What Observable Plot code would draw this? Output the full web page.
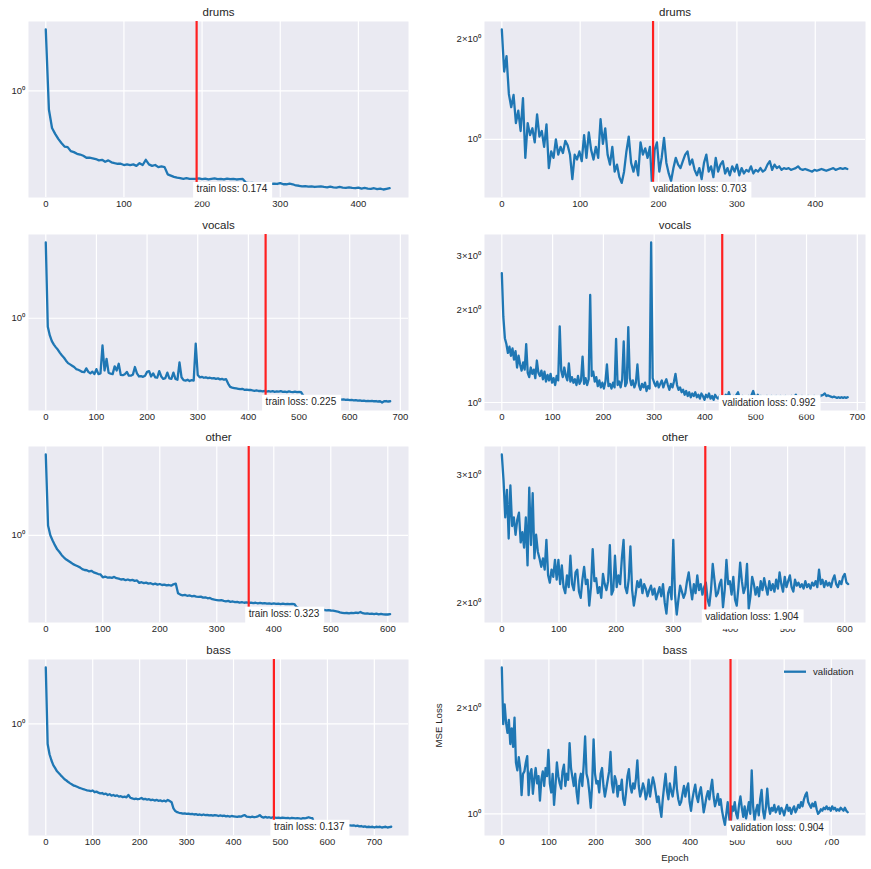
<!DOCTYPE html>
<html><head><meta charset="utf-8">
<script src="https://cdn.jsdelivr.net/npm/d3@7"></script>
<script src="https://cdn.jsdelivr.net/npm/@observablehq/plot@0.6"></script>
<style>
body{margin:0;background:#fff;}
#fig{position:relative;width:871px;height:869px;font-family:"Liberation Sans",Arial,sans-serif;}
#fig svg{position:absolute;overflow:visible;}
</style></head><body><div id="fig"></div>
<script>
// ---------- data ----------
const instruments = ["drums", "vocals", "other", "bass"];
const nEpochs = [443, 683, 607, 737];
const bestEpochs = [193, 434, 356, 486];
const bestTrainLoss = [0.174, 0.225, 0.323, 0.137];
const bestValLoss = [0.703, 0.992, 1.904, 0.904];
const trainStep = 4;   // epochs between train samples
const valStep = 3;     // epochs between validation samples

const drumsXTicks = [0, 100, 200, 300, 400];
const vocalsXTicks = [0, 100, 200, 300, 400, 500, 600, 700];
const otherXTicks = [0, 100, 200, 300, 400, 500, 600];
const bassXTicks = [0, 100, 200, 300, 400, 500, 600, 700];
const trainYTicks = [1];
const valYTicks = [1, 2, 3];
const majorYGrid = [1];

const drumsTrainLoss = [
2.93,0.72,0.52,0.47,0.43,0.40,0.376,0.372,0.347,0.341,
0.331,0.327,0.32,0.309,0.309,0.306,0.302,0.295,0.298,0.288,
0.295,0.285,0.281,0.278,0.278,0.272,0.275,0.272,0.275,0.268,
0.281,0.272,0.298,0.275,0.268,0.272,0.262,0.265,0.262,0.231,
0.226,0.221,0.218,0.216,0.213,0.216,0.213,0.213,0.213,0.215,
0.212,0.214,0.211,0.213,0.215,0.212,0.213,0.211,0.214,0.212,
0.213,0.211,0.212,0.213,0.200,0.198,0.199,0.197,0.198,0.196,
0.197,0.196,0.195,0.196,0.195,0.198,0.194,0.194,0.196,0.194,
0.19,0.189,0.187,0.188,0.186,0.187,0.185,0.186,0.187,0.185,
0.184,0.186,0.184,0.183,0.185,0.183,0.182,0.184,0.182,0.181,
0.183,0.18,0.182,0.18,0.179,0.181,0.178,0.18,0.177,0.179,
0.181];
const drumsValLoss = [
2.14,1.60,1.78,1.37,1.25,1.36,1.12,1.22,1.06,1.33,
0.88,1.12,1.03,1.08,0.98,1.19,1.02,1.06,0.95,1.11,
0.82,0.92,0.88,1.00,0.90,0.95,0.91,0.99,0.96,0.90,
0.76,0.90,0.87,0.92,0.86,1.03,0.88,1.05,0.93,0.87,
0.95,0.88,1.15,0.97,1.08,0.90,0.84,0.95,0.80,0.84,
0.77,0.74,0.80,0.92,1.02,0.85,0.80,0.86,0.78,0.98,
0.90,0.94,0.88,0.95,0.707,0.93,0.98,0.80,0.88,1.01,
0.85,0.79,0.75,0.82,0.88,0.84,0.82,0.86,0.90,0.92,
0.84,0.87,0.81,0.78,0.82,0.76,0.85,0.90,0.80,0.83,
0.77,0.88,0.80,0.84,0.86,0.79,0.82,0.78,0.83,0.80,
0.84,0.78,0.82,0.79,0.81,0.80,0.83,0.79,0.81,0.80,
0.82,0.80,0.81,0.84,0.86,0.81,0.84,0.82,0.83,0.81,
0.82,0.815,0.82,0.81,0.815,0.82,0.83,0.815,0.81,0.815,
0.81,0.805,0.80,0.81,0.805,0.81,0.815,0.81,0.805,0.81,
0.815,0.82,0.81,0.815,0.82,0.815,0.82,0.815];
const vocalsTrainLoss = [
3.78,0.86,0.74,0.67,0.63,0.60,0.575,0.545,0.52,0.50,
0.475,0.455,0.445,0.435,0.425,0.41,0.405,0.398,0.39,0.388,
0.415,0.39,0.38,0.392,0.375,0.41,0.375,0.38,0.62,0.40,
0.49,0.385,0.378,0.375,0.43,0.40,0.45,0.37,0.368,0.375,
0.39,0.365,0.365,0.372,0.425,0.38,0.36,0.362,0.358,0.365,
0.39,0.395,0.36,0.38,0.355,0.352,0.395,0.36,0.345,0.35,
0.385,0.348,0.345,0.385,0.345,0.34,0.46,0.355,0.338,0.335,
0.34,0.332,0.338,0.335,0.64,0.37,0.355,0.358,0.352,0.355,
0.35,0.352,0.348,0.35,0.345,0.348,0.342,0.345,0.34,0.343,
0.318,0.30,0.296,0.294,0.292,0.29,0.288,0.29,0.285,0.286,
0.284,0.285,0.282,0.28,0.282,0.279,0.28,0.277,0.279,0.276,
0.278,0.276,0.278,0.275,0.277,0.276,0.278,0.275,0.276,0.274,
0.277,0.275,0.274,0.276,0.274,0.275,0.273,0.258,0.252,0.25,
0.249,0.248,0.247,0.248,0.246,0.247,0.245,0.246,0.244,0.245,
0.243,0.244,0.242,0.243,0.241,0.242,0.24,0.241,0.239,0.24,
0.238,0.239,0.237,0.238,0.236,0.237,0.235,0.236,0.234,0.235,
0.234,0.235,0.233,0.234,0.232,0.233,0.228,0.233,0.234,0.232,
0.233];
const vocalsValLoss = [
2.64,1.90,1.62,1.55,1.45,1.52,1.42,1.50,1.38,1.47,
1.30,1.42,1.33,1.27,1.35,1.28,1.55,1.25,1.21,1.30,
1.24,1.28,1.20,1.37,1.25,1.22,1.27,1.19,1.26,1.17,
1.23,1.18,1.24,1.16,1.20,1.14,1.22,1.18,1.77,1.27,
1.21,1.30,1.22,1.18,1.34,1.17,1.21,1.16,1.19,1.14,
1.22,1.15,1.18,1.41,1.15,1.20,1.14,1.19,2.24,1.22,
1.26,1.17,1.21,1.13,1.18,1.12,1.16,1.11,1.17,1.33,
1.13,1.15,1.11,1.16,1.12,1.61,1.14,1.17,1.12,1.19,
1.58,1.13,1.16,1.76,1.20,1.14,1.18,1.12,1.16,1.33,
1.14,1.10,1.15,1.12,1.16,1.09,1.13,1.11,3.32,1.20,
1.16,1.13,1.17,1.12,1.15,1.18,1.12,1.16,1.19,1.14,
1.10,1.15,1.12,1.17,1.24,1.14,1.10,1.12,1.08,1.10,
1.06,1.09,1.05,1.08,1.04,1.07,1.05,1.08,1.04,1.06,
1.03,1.07,1.05,1.02,1.06,1.04,1.07,1.03,1.05,1.02,
1.06,1.04,1.03,1.05,1.02,1.00,1.04,1.06,1.03,1.08,
1.04,1.02,1.05,1.03,1.06,1.08,1.04,1.03,1.05,1.02,
1.04,1.03,1.05,1.03,1.06,1.09,1.05,1.04,1.06,1.04,
1.05,1.04,1.045,1.04,1.05,1.04,1.045,1.05,1.04,1.045,
1.05,1.04,1.045,1.05,1.04,1.045,1.05,1.04,1.045,1.04,
1.05,1.04,1.045,1.06,1.04,1.045,1.04,1.05,1.04,1.045,
1.04,1.05,1.04,1.045,1.04,1.05,1.04,1.045,1.04,1.05,
1.055,1.06,1.07,1.05,1.055,1.05,1.045,1.04,1.045,1.04,
1.035,1.04,1.035,1.04,1.035,1.04,1.035,1.04];
const otherTrainLoss = [
3.14,1.15,1.00,0.93,0.87,0.82,0.79,0.755,0.73,0.71,
0.695,0.68,0.665,0.655,0.645,0.635,0.62,0.612,0.61,0.60,
0.605,0.592,0.585,0.578,0.575,0.552,0.558,0.55,0.552,0.548,
0.555,0.545,0.542,0.535,0.538,0.53,0.535,0.528,0.532,0.525,
0.528,0.51,0.515,0.508,0.512,0.505,0.508,0.50,0.505,0.498,
0.502,0.495,0.498,0.492,0.495,0.49,0.50,0.505,0.44,0.432,
0.428,0.43,0.425,0.427,0.422,0.424,0.42,0.418,0.42,0.414,
0.416,0.41,0.412,0.405,0.402,0.40,0.398,0.40,0.395,0.393,
0.395,0.39,0.392,0.388,0.39,0.386,0.388,0.385,0.387,0.384,
0.386,0.383,0.385,0.382,0.384,0.381,0.383,0.38,0.382,0.379,
0.381,0.379,0.38,0.378,0.38,0.378,0.379,0.377,0.379,0.378,
0.362,0.356,0.354,0.352,0.353,0.35,0.352,0.349,0.35,0.348,
0.349,0.347,0.348,0.346,0.347,0.345,0.344,0.342,0.34,0.336,
0.334,0.332,0.333,0.331,0.334,0.332,0.335,0.333,0.338,0.332,
0.33,0.331,0.329,0.33,0.328,0.33,0.327,0.329,0.327,0.326,
0.326,0.328];
const otherValLoss = [
3.20,2.95,2.62,2.86,2.45,2.90,2.55,2.62,2.48,2.60,
2.66,2.42,2.50,2.38,2.62,2.25,2.88,2.40,2.83,2.30,
2.48,2.35,2.30,2.24,2.30,2.22,2.44,2.18,2.13,2.22,
2.17,2.29,2.15,2.29,2.12,2.25,2.10,2.06,2.18,2.10,
2.32,2.12,2.08,2.20,2.22,2.07,2.03,2.15,2.24,2.12,
2.15,1.98,2.10,2.37,2.14,2.16,2.06,2.10,2.03,2.19,
2.12,2.08,2.14,2.40,2.05,2.08,2.32,2.10,2.18,2.12,
2.30,2.44,2.10,2.06,2.15,2.39,2.08,1.98,2.05,2.14,
2.10,2.15,2.06,2.12,2.09,2.04,2.08,2.11,2.05,2.09,
2.02,2.06,2.10,2.04,2.12,2.00,1.93,2.06,2.10,2.02,
2.44,2.05,1.925,2.02,2.11,2.07,2.03,2.06,2.14,2.20,
2.10,2.02,2.12,2.06,2.18,2.08,2.12,2.05,2.10,2.13,
2.02,1.98,2.08,2.26,2.15,2.04,2.06,2.12,2.15,1.97,
2.08,2.29,2.12,2.14,2.05,2.17,2.02,1.98,2.10,2.27,
2.14,2.06,2.10,2.26,1.96,2.04,2.17,2.12,2.05,2.10,
2.04,2.14,2.08,2.16,2.10,2.05,2.14,2.08,2.12,2.07,
2.15,2.09,2.20,2.12,2.07,2.17,2.10,2.14,2.18,2.10,
2.07,2.15,2.11,2.13,2.10,2.12,2.09,2.14,2.10,2.12,
2.09,2.13,2.11,2.14,2.10,2.22,2.12,2.15,2.10,2.14,
2.11,2.13,2.10,2.15,2.18,2.12,2.10,2.14,2.12,2.17,
2.19,2.13,2.12];
const bassTrainLoss = [
2.92,0.68,0.56,0.50,0.455,0.43,0.405,0.39,0.375,0.362,
0.348,0.34,0.33,0.322,0.315,0.308,0.305,0.30,0.295,0.292,
0.288,0.285,0.282,0.28,0.278,0.281,0.272,0.275,0.27,0.266,
0.268,0.262,0.265,0.258,0.262,0.255,0.258,0.253,0.256,0.25,
0.252,0.248,0.25,0.247,0.258,0.245,0.242,0.239,0.241,0.238,
0.24,0.244,0.238,0.24,0.236,0.238,0.234,0.236,0.232,0.235,
0.231,0.233,0.229,0.232,0.228,0.235,0.23,0.225,0.20,0.19,
0.186,0.184,0.183,0.181,0.182,0.18,0.181,0.179,0.18,0.178,
0.179,0.177,0.178,0.176,0.178,0.176,0.177,0.175,0.176,0.174,
0.176,0.175,0.173,0.175,0.173,0.174,0.172,0.173,0.171,0.173,
0.172,0.171,0.17,0.172,0.171,0.174,0.176,0.171,0.17,0.169,
0.171,0.169,0.17,0.172,0.176,0.17,0.168,0.17,0.168,0.169,
0.167,0.169,0.168,0.167,0.168,0.166,0.168,0.167,0.166,0.167,
0.165,0.167,0.166,0.165,0.166,0.165,0.164,0.166,0.165,0.167,
0.169,0.167,0.166,0.15,0.148,0.149,0.147,0.148,0.146,0.147,
0.146,0.147,0.145,0.146,0.145,0.146,0.144,0.145,0.144,0.145,
0.144,0.145,0.145,0.144,0.145,0.143,0.144,0.142,0.143,0.141,
0.142,0.14,0.141,0.14,0.141,0.139,0.141,0.14,0.141,0.139,
0.14,0.141,0.139,0.14,0.141];
const bassValLoss = [
2.61,1.80,2.05,1.82,1.70,1.85,1.58,1.75,1.55,1.88,
1.40,1.33,1.45,1.35,1.13,1.30,1.32,1.40,1.46,1.13,
1.30,1.34,1.14,1.26,1.35,1.22,1.28,1.09,1.25,1.32,
1.20,1.35,1.28,1.52,1.22,1.15,1.30,1.06,1.20,1.40,
1.28,1.22,1.18,1.32,1.38,1.20,1.30,1.25,1.59,1.35,
1.27,1.20,1.30,1.15,1.07,1.24,1.30,1.20,1.38,1.66,
1.30,1.25,1.15,1.04,1.22,1.63,1.30,1.22,1.24,1.15,
1.30,1.35,1.20,1.12,1.18,1.25,1.32,1.50,1.22,1.15,
1.28,1.24,1.12,1.20,1.17,1.25,1.10,1.06,1.15,1.28,
1.34,1.20,1.15,1.22,1.18,1.26,1.42,1.20,1.12,1.16,
1.22,1.18,1.10,1.14,1.25,1.12,1.20,1.27,1.22,1.15,
1.08,1.12,1.04,0.98,1.10,1.20,1.30,1.16,1.10,1.22,
1.16,1.12,1.20,1.36,1.18,1.10,1.06,1.08,1.14,1.20,
1.12,1.18,1.22,1.08,1.02,1.10,1.16,1.21,1.12,1.08,
1.15,1.19,1.10,1.01,1.06,1.12,1.16,1.10,1.18,1.25,
1.12,1.05,1.09,1.14,1.06,1.10,1.02,0.97,0.93,1.00,
1.08,0.98,0.914,1.05,1.02,1.08,1.00,0.97,1.06,1.12,
1.04,0.98,1.05,0.97,1.02,1.08,1.00,1.33,1.05,0.96,
1.02,1.06,0.99,1.10,1.17,1.02,0.97,1.04,1.18,1.05,
1.00,1.04,1.02,1.06,1.01,1.03,1.05,1.00,1.04,1.02,
0.99,1.03,1.06,1.02,1.04,1.00,1.03,1.05,1.01,1.03,
1.06,1.04,1.08,1.05,1.10,1.13,1.15,1.08,1.06,1.04,
1.07,1.05,1.08,1.03,1.00,1.01,1.03,1.02,1.04,1.03,
1.05,1.03,1.04,1.02,1.05,1.03,1.04,1.02,1.03,1.02,
1.04,1.03,1.02,1.04,1.02,1.01];

const trainLoss = [drumsTrainLoss, vocalsTrainLoss, otherTrainLoss, bassTrainLoss];
const valLoss = [drumsValLoss, vocalsValLoss, otherValLoss, bassValLoss];
const xTicksList = [drumsXTicks, vocalsXTicks, otherXTicks, bassXTicks];

// ---------- layout / style ----------
const L = {
  colLeft: [0, 430], colWidth: [430, 441],
  marginLeft: [28, 54], marginRight: [22, 6],
  frameTop: [21, 234, 446, 659], frameHeight: 176, marginTop: 21
};
const BG = "#eaeaf2", BLUE = "#1f77b4", TXT = "#262626";
const FONT = "'Liberation Sans', Arial, sans-serif";
const SVGNS = "http://www.w3.org/2000/svg";
const fig = document.getElementById("fig");
const fmtY = v => v === 1 ? "10\u2070" : `${v}\u00d710\u2070`;

function drawPanel(r, c) {
  const isVal = c === 1;
  const values = isVal ? valLoss[r] : trainLoss[r];
  const step = isVal ? valStep : trainStep;
  const data = values.map((loss, i) => ({epoch: i * step, loss}));
  const span = nEpochs[r] - 1;
  const xDomain = [-0.05 * span, 1.05 * span];
  const lo = d3.min(values), hi = d3.max(values);
  const pad = Math.pow(hi / lo, 0.05);
  const yDomain = [lo / pad, hi * pad];
  const inY = v => v >= yDomain[0] && v <= yDomain[1];
  const xTicks = xTicksList[r];
  const last = r === 3 && c === 1;
  const mB = r === 3 ? 34 : 16;
  const width = L.colWidth[c];
  const height = L.marginTop + L.frameHeight + mB;
  const bestLoss = isVal ? bestValLoss[r] : bestTrainLoss[r];
  const prefix = isVal ? "validation" : "train";

  const marks = [
    Plot.frame({fill: BG, stroke: "none"}),
    Plot.ruleX(xTicks, {stroke: "white", strokeWidth: 1.2}),
    Plot.ruleY(majorYGrid.filter(inY), {stroke: "white", strokeWidth: 1.2}),
    Plot.line(data, {x: "epoch", y: "loss", stroke: BLUE, strokeWidth: 2.3}),
    Plot.ruleX([bestEpochs[r]], {stroke: "#ff2020", strokeWidth: 2.2}),
    Plot.text([{epoch: bestEpochs[r], loss: bestLoss}], {
      x: "epoch", y: "loss", text: d => `${prefix} loss: ${d.loss.toFixed(3)}`,
      textAnchor: "start", lineAnchor: "bottom", dy: 2, fontSize: 10, fill: TXT
    }),
    Plot.text([instruments[r]], {frameAnchor: "top", lineAnchor: "middle", dy: -9.5, text: d => d, fontSize: 11.5, fill: TXT})
  ];
  if (last) {
    marks.push(Plot.text(["Epoch"], {frameAnchor: "bottom", lineAnchor: "middle", dy: 22, text: d => d, fontSize: 9.7, fill: TXT}));
    marks.push(Plot.text(["MSE Loss"], {frameAnchor: "left", lineAnchor: "middle", dx: -46, rotate: -90, text: d => d, fontSize: 9.7, fill: TXT}));
  }

  const svg = Plot.plot({
    width, height,
    marginLeft: L.marginLeft[c], marginRight: L.marginRight[c],
    marginTop: L.marginTop, marginBottom: mB,
    style: {fontFamily: FONT, fontSize: "9.5px", color: TXT, background: "transparent", overflow: "visible", maxWidth: "none"},
    x: {domain: xDomain, ticks: xTicks, tickSize: 0, tickPadding: 3, tickFormat: d => String(d), label: null},
    y: {type: "log", domain: yDomain, ticks: (isVal ? valYTicks : trainYTicks).filter(inY), tickSize: 0, tickPadding: 3.5, tickFormat: fmtY, label: null},
    marks
  });
  svg.style.left = L.colLeft[c] + "px";
  svg.style.top = (L.frameTop[r] - L.marginTop) + "px";
  fig.appendChild(svg);

  // white box behind the annotation text (drawn over the red rule)
  const t = [...svg.querySelectorAll("text")].find(e => /loss:/.test(e.textContent));
  if (t) {
    const bb = t.getBBox();
    const rect = document.createElementNS(SVGNS, "rect");
    rect.setAttribute("x", bb.x - 3.5);
    rect.setAttribute("y", bb.y - 1.5);
    rect.setAttribute("width", bb.width + 8);
    rect.setAttribute("height", bb.height + 8.5);
    rect.setAttribute("fill", "white");
    if (t.getAttribute("transform")) rect.setAttribute("transform", t.getAttribute("transform"));
    t.parentNode.insertBefore(rect, t);
  }

  if (last) {
    const fr = width - L.marginRight[c];
    const ly = L.marginTop + 12.7;
    const g = document.createElementNS(SVGNS, "g");
    const ln = document.createElementNS(SVGNS, "line");
    ln.setAttribute("x1", fr - 81); ln.setAttribute("x2", fr - 59);
    ln.setAttribute("y1", ly); ln.setAttribute("y2", ly);
    ln.setAttribute("stroke", BLUE); ln.setAttribute("stroke-width", 2.3);
    const tx = document.createElementNS(SVGNS, "text");
    tx.setAttribute("x", fr - 52); tx.setAttribute("y", ly);
    tx.setAttribute("dy", "0.35em");
    tx.setAttribute("text-anchor", "start");
    tx.setAttribute("font-size", 9.6); tx.setAttribute("fill", TXT);
    tx.textContent = "validation";
    g.appendChild(ln); g.appendChild(tx);
    svg.appendChild(g);
  }
}

for (let r = 0; r < 4; r++) for (let c = 0; c < 2; c++) drawPanel(r, c);
</script></body></html>
